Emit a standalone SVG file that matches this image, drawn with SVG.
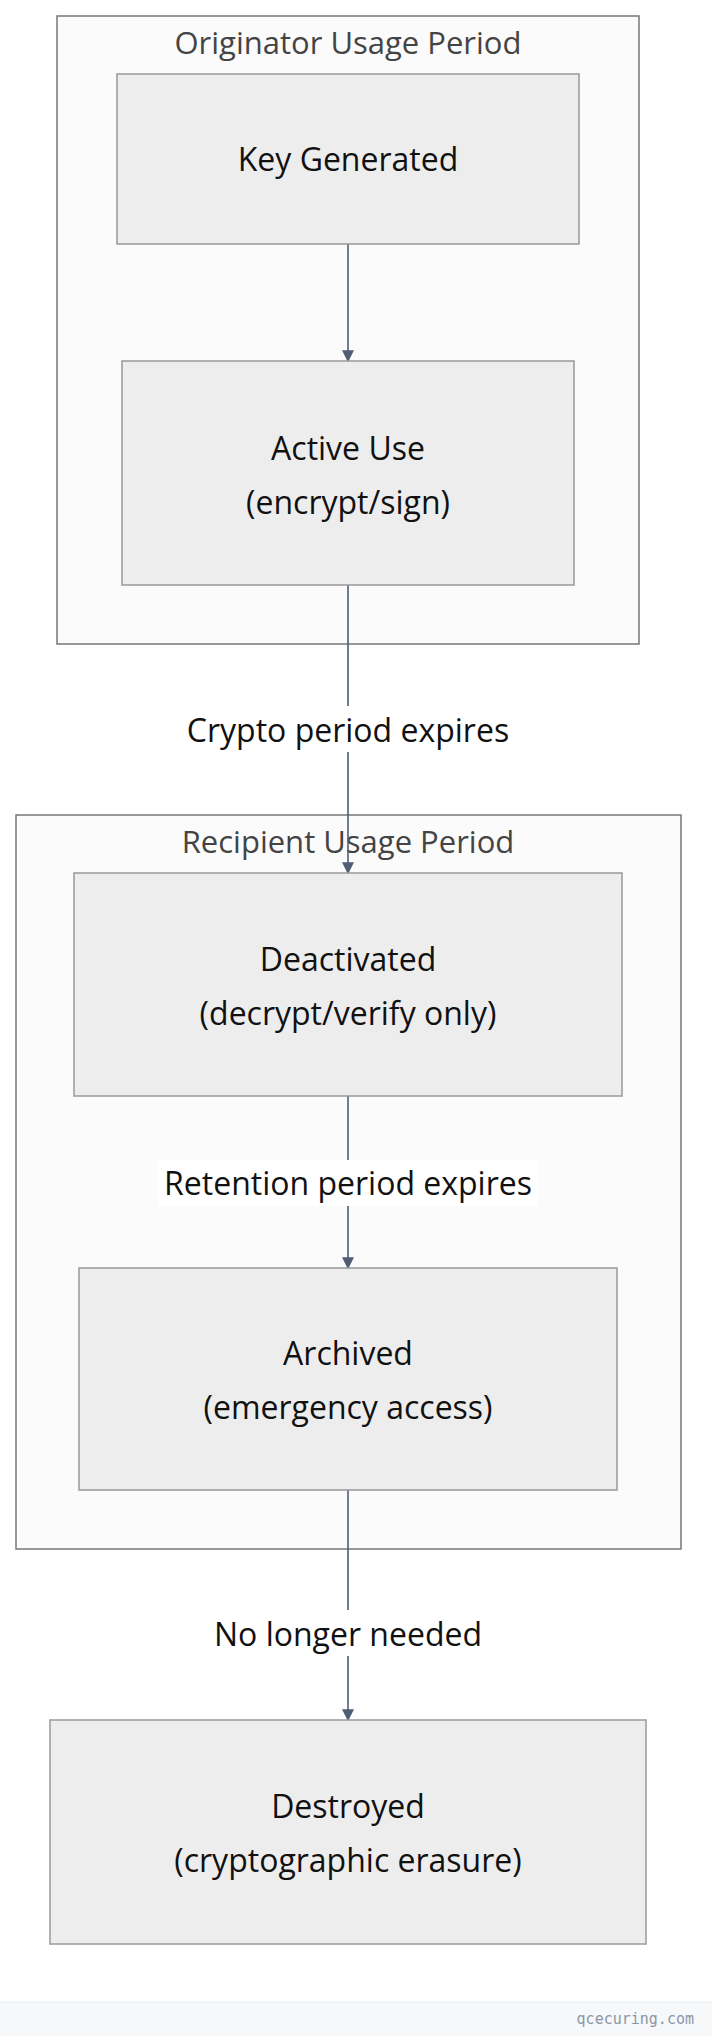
<svg xmlns="http://www.w3.org/2000/svg" width="712" height="2036" viewBox="0 0 712 2036">
<defs>
<style>
text{font-family:"Segoe UI","Open Sans","Noto Sans",sans-serif;text-anchor:middle;fill:#111}
.grp{fill:#fbfbfb;stroke:#777;stroke-width:1.5}
.gt{font-size:31px;fill:#444}
.nd{fill:#ededed;stroke:#999;stroke-width:1.5}
.nt{font-size:32px}
.e{stroke:#4f5d75;stroke-width:1.6;fill:none;marker-end:url(#a)}
.lb{font-size:32px}
</style>
<marker id="a" viewBox="0 0 10 10" refX="9" refY="5" markerWidth="12" markerHeight="12" markerUnits="userSpaceOnUse" orient="auto"><path d="M0,0L10,5L0,10z" fill="#4f5d75"/></marker>
</defs>
<rect width="712" height="2036" fill="#fff"/>
<g id="originator"><rect class="grp" x="57" y="16" width="582" height="628"/><text class="gt" x="348" y="54">Originator Usage Period</text></g>
<g id="recipient"><rect class="grp" x="16" y="815" width="665" height="734"/><text class="gt" x="348" y="853">Recipient Usage Period</text></g>
<g id="connectors">
<path class="e" d="M348,244V361"/>
<path class="e" d="M348,585V873"/>
<rect x="170" y="706" width="356" height="46" fill="#fff"/>
<text class="lb" x="348" y="742">Crypto period expires</text>
<path class="e" d="M348,1096V1268"/>
<rect x="158" y="1160" width="380" height="46" fill="#fff"/>
<text class="lb" x="348" y="1195">Retention period expires</text>
<path class="e" d="M348,1490V1720"/>
<rect x="200" y="1610" width="296" height="46" fill="#fff"/>
<text class="lb" x="348" y="1646">No longer needed</text>
</g>
<g id="keygen"><rect class="nd" x="117" y="74" width="462" height="170"/><text class="nt" x="348" y="171">Key Generated</text></g>
<g id="active"><rect class="nd" x="122" y="361" width="452" height="224"/><text class="nt" x="348" y="460">Active Use</text><text class="nt" x="348" y="514">(encrypt/sign)</text></g>
<g id="deactivated"><rect class="nd" x="74" y="873" width="548" height="223"/><text class="nt" x="348" y="971">Deactivated</text><text class="nt" x="348" y="1025">(decrypt/verify only)</text></g>
<g id="archived"><rect class="nd" x="79" y="1268" width="538" height="222"/><text class="nt" x="348" y="1365">Archived</text><text class="nt" x="348" y="1419">(emergency access)</text></g>
<g id="destroyed"><rect class="nd" x="50" y="1720" width="596" height="224"/><text class="nt" x="348" y="1818">Destroyed</text><text class="nt" x="348" y="1872">(cryptographic erasure)</text></g>
<g id="footer"><rect x="0" y="2002" width="712" height="34" fill="#f6f8fa"/><line x1="0" y1="2002" x2="712" y2="2002" stroke="#e6eaef"/><text x="694" y="2024" style="font-family:'DejaVu Sans Mono',monospace;font-size:15px;fill:#8a97a8;text-anchor:end">qcecuring.com</text></g>
</svg>
